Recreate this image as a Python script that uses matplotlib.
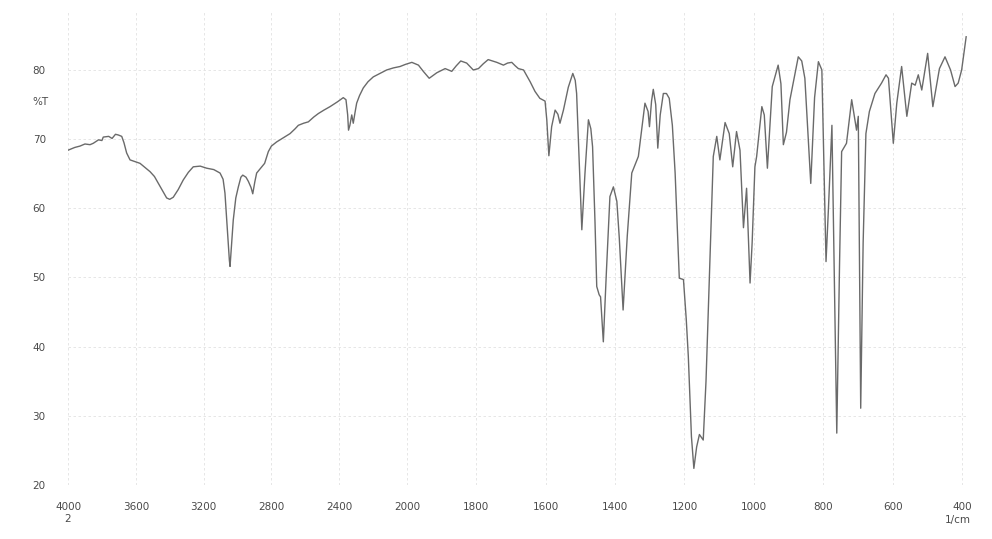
import numpy as np
import matplotlib.pyplot as plt

# IR transmission spectrum, wavenumber (1/cm) vs %T
wavenumber = [
    4000, 3960, 3929, 3900, 3870, 3851, 3820, 3800, 3792, 3760, 3740, 3720,
    3703, 3683, 3670, 3654, 3640, 3634, 3610, 3575, 3550, 3516, 3490, 3467,
    3440, 3418, 3400, 3379, 3350, 3320, 3290, 3261, 3220, 3182, 3140, 3103,
    3085, 3074, 3060, 3048, 3044, 3036, 3025, 3010, 2995, 2980, 2969, 2950,
    2936, 2920, 2910, 2898, 2887, 2857, 2840, 2818, 2800, 2769, 2730, 2690,
    2660, 2641, 2610, 2582, 2550, 2523, 2490, 2454, 2410, 2376, 2360, 2350,
    2345, 2337, 2326, 2317, 2307, 2297, 2280, 2258, 2230, 2199, 2160, 2120,
    2080, 2041, 2010, 1986, 1967, 1953, 1936, 1925, 1914, 1890, 1871, 1858,
    1845, 1828, 1809, 1794, 1780, 1766, 1741, 1722, 1710, 1698, 1688, 1679,
    1664, 1655, 1645, 1631, 1617, 1602, 1597, 1591, 1583, 1573, 1565, 1559,
    1549, 1535, 1522, 1515, 1511, 1503, 1496, 1487, 1477, 1470, 1465, 1458,
    1453, 1446, 1442, 1434, 1425, 1415, 1405, 1395, 1388, 1377, 1365, 1352,
    1333, 1322, 1314, 1305, 1301, 1295, 1290, 1283, 1277, 1270, 1261, 1252,
    1244, 1235, 1227, 1215, 1203, 1195, 1189, 1180, 1173, 1165, 1157, 1146,
    1138, 1131, 1124, 1117, 1107, 1098, 1083, 1071, 1061, 1050, 1040, 1030,
    1021, 1011, 1005, 997, 992, 977, 970, 961, 947, 930, 922, 915,
    906, 896, 872, 862, 853, 836, 825, 814, 804, 792, 785, 775,
    761, 753, 747, 733, 718, 704, 699, 692, 685, 677, 667, 651,
    632, 619, 612, 598, 588, 574, 559, 545, 535, 526, 516, 499,
    484, 465, 449, 433, 420, 411, 401, 388,
]
transmittance = [
    68.4, 68.8, 69.0, 69.3, 69.2, 69.4, 69.9, 69.8, 70.3, 70.4, 70.1, 70.7,
    70.6, 70.4, 69.5, 68.0, 67.3, 67.0, 66.8, 66.5, 66.0, 65.3, 64.6, 63.6,
    62.4, 61.5, 61.3, 61.6, 62.7, 64.1, 65.2, 66.0, 66.1, 65.8, 65.6, 65.1,
    64.2, 62.2, 57.0, 52.5, 51.6, 54.5, 58.3, 61.5, 63.1, 64.5, 64.8, 64.5,
    63.9, 63.0, 62.1, 63.8, 65.1, 66.0, 66.5, 68.2, 69.0, 69.6, 70.2, 70.8,
    71.5, 72.0, 72.3, 72.5, 73.2, 73.7, 74.2, 74.7, 75.4, 76.0, 75.7, 73.5,
    71.3, 72.0, 73.5, 72.3, 73.8, 75.2, 76.3, 77.4, 78.3, 79.0, 79.5, 80.0,
    80.3, 80.5, 80.8, 81.1, 80.7, 79.8, 78.8, 79.2, 79.6, 80.2, 79.8, 80.6,
    81.3, 81.0, 80.0, 80.2, 80.9, 81.5, 81.1, 80.7, 81.0, 81.1, 80.6, 80.2,
    80.0, 79.2, 78.3, 76.9, 75.9, 75.5, 72.8, 67.6, 71.8, 74.2, 73.6, 72.3,
    74.2, 77.5, 79.5, 78.5, 76.6, 66.0, 56.9, 65.0, 72.8, 71.5, 68.9, 58.0,
    48.7, 47.5, 47.2, 40.7, 51.0, 61.7, 63.1, 61.0, 55.7, 45.3, 56.0, 65.1,
    67.5, 72.0, 75.2, 74.0, 71.8, 75.5, 77.2, 75.0, 68.7, 73.5, 76.6, 76.6,
    75.9, 72.0, 65.1, 49.9, 49.7, 44.0, 38.6, 27.0, 22.4, 25.5, 27.3, 26.5,
    35.0, 45.8, 57.0, 67.5, 70.4, 67.0, 72.4, 70.8, 66.0, 71.1, 68.4, 57.2,
    62.9, 49.2, 55.0, 66.0, 67.5, 74.7, 73.5, 65.8, 77.6, 80.7, 78.0, 69.2,
    71.0, 75.7, 81.9, 81.3, 78.8, 63.6, 76.0, 81.2, 80.0, 52.3, 60.0, 72.0,
    27.5, 52.0, 68.2, 69.4, 75.7, 71.3, 73.3, 31.1, 55.0, 70.8, 74.0, 76.6,
    78.1, 79.3, 78.8, 69.4, 75.2, 80.5, 73.3, 78.1, 77.8, 79.3, 77.1, 82.4,
    74.7, 80.2, 81.9, 80.0, 77.6, 78.1, 80.0, 84.8,
]

x_ticks = [4000, 3600, 3200, 2800, 2400, 2000, 1800, 1600, 1400, 1200, 1000, 800, 600, 400]
y_ticks = [20, 30, 40, 50, 60, 70, 80]


# chart paper: 4000-2000 at half the scale of 2000-400
def fwd(w):
    w = np.asarray(w, dtype=float)
    return np.where(w <= 2000, (w - 400) / 1600 * 555, 555 + (w - 2000) / 2000 * 339)


def inv(t):
    t = np.asarray(t, dtype=float)
    return np.where(t <= 555, 400 + t * 1600 / 555, 2000 + (t - 555) * 2000 / 339)


fig = plt.figure(figsize=(9.92, 5.39), dpi=100)
ax = fig.add_axes([68 / 992, 54 / 539, 899.2 / 992, 475 / 539])
ax.set_xscale('function', functions=(fwd, inv))
ax.plot(wavenumber, transmittance, color='#6a6a6a', lw=1.0)

ax.set_xlim(4000, 385)
ax.set_ylim(20, 88.67)
ax.set_xticks(x_ticks)
ax.set_xticklabels([str(v) for v in x_ticks])
ax.set_yticks(y_ticks)
ax.minorticks_off()
ax.tick_params(axis='both', length=0, labelsize=7.5, labelcolor='#4a4a4a')
ax.tick_params(axis='y', pad=16)
ax.tick_params(axis='x', pad=12)
for s in ax.spines.values():
    s.set_visible(False)
ax.grid(True, color='#e2e2e2', lw=0.6, ls=(0, (3, 3)))

ax.text(-0.031, 75.4, '%T', transform=ax.get_yaxis_transform(), fontsize=7.5,
        color='#4a4a4a', ha='center', va='center')
ax.text(4000, -0.072, '2', transform=ax.get_xaxis_transform(), fontsize=7.5,
        color='#4a4a4a', ha='center', va='center')
ax.text(412, -0.074, '1/cm', transform=ax.get_xaxis_transform(), fontsize=7.5,
        color='#4a4a4a', ha='center', va='center')

fig.savefig('out.png', dpi=100)
